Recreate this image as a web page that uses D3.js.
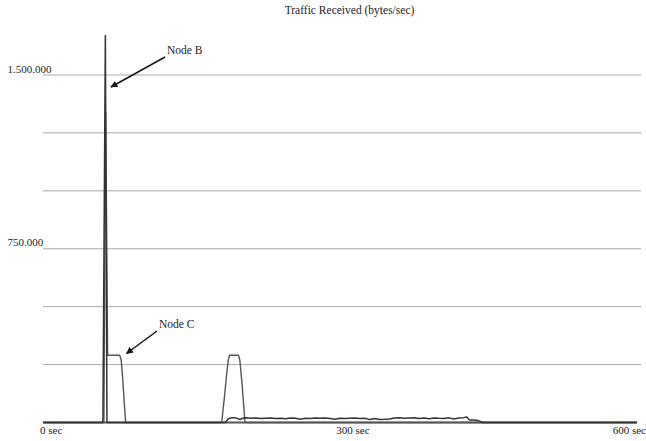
<!DOCTYPE html>
<html>
<head>
<meta charset="utf-8">
<script src="https://cdn.jsdelivr.net/npm/d3@7"></script>
<style>
  body { margin: 0; background: #fff; }
</style>
</head>
<body>
<svg id="traffic-chart"></svg>
<script>
// Traffic received per node, bytes/sec over 600 sec

var chartTitle = "Traffic Received (bytes/sec)";

var xTicks = [0, 300, 600];
var xTickLabels = ["0 sec", "300 sec", "600 sec"];
var gridValues = [0, 250000, 500000, 750000, 1000000, 1250000, 1500000];
var yLabelValues = [750000, 1500000];

// Node B: the big spike, then the low noisy traffic
var nodeBTimes = [0, 60.5, 63, 64.6, 184, 187, 190, 193, 196, 199, 202, 205, 210, 215, 220, 225, 230, 235,
	240, 245, 250, 255, 260, 265, 270, 275, 280, 285, 290, 295, 300, 305, 310, 315, 320, 325, 330, 335,
	340, 345, 350, 355, 360, 365, 370, 375, 380, 385, 390, 395, 400, 405, 410, 415, 420, 425, 428, 431,
	435, 439, 444.5, 600];
var nodeBValues = [0, 0, 1670000, 0, 0, 15000, 20000, 21000, 18000, 13000, 19000, 20000, 18000, 19000,
	17000, 18500, 19000, 17500, 18000, 16000, 19000, 18000, 14000, 18500, 17500, 19000, 18000, 19500, 17000,
	14000, 18000, 17500, 18500, 19000, 17000, 18000, 12500, 17000, 13000, 13500, 15000, 19000, 20000, 18500,
	19500, 20500, 17500, 19000, 16500, 19500, 18000, 17000, 20000, 15500, 19500, 21000, 24000, 11000, 10500,
	9000, 0, 0];

// Node C: short spike, then two plateaus around 290k
var nodeCTimes = [0, 61.5, 63.3, 65.3, 66.5, 77.5, 79, 80.5, 82, 83.5, 180.5, 183.5, 186, 187.2, 188.4,
	197.5, 198.8, 201, 204, 600];
var nodeCValues = [0, 0, 1340000, 290000, 290000, 290000, 270000, 190000, 90000, 0, 0, 120000, 230000,
	270000, 290000, 290000, 270000, 170000, 0, 0];

var fullWidth = 646, fullHeight = 441;
var margin = {top: 75, right: 9, bottom: 18.5, left: 43};
var serif = "'Liberation Serif', 'Times New Roman', 'DejaVu Serif', serif";

var xscale = d3.scaleLinear()
	.domain([0, 600])
	.range([margin.left, fullWidth - margin.right]);

var yscale = d3.scaleLinear()
	.domain([0, 1500000])
	.range([fullHeight - margin.bottom, margin.top]);

var dotLocale = d3.formatLocale({decimal: ",", thousands: ".", grouping: [3], currency: ["", ""]});
var yformat = dotLocale.format(",d");

var svg = d3.select("#traffic-chart")
	.attr("width", fullWidth)
	.attr("height", fullHeight)
	.attr("font-family", serif)
	.style("font-family", serif);

svg.append("defs").append("marker")
	.attr("id", "arrowhead")
	.attr("viewBox", "0 0 10 10")
	.attr("refX", 9)
	.attr("refY", 5)
	.attr("markerWidth", 9)
	.attr("markerHeight", 7)
	.attr("markerUnits", "userSpaceOnUse")
	.attr("orient", "auto")
	.append("path")
	.attr("d", "M0,0 L10,5 L0,10 z")
	.style("fill", "#111");

// title
svg.append("text")
	.attr("x", 349.5)
	.attr("y", 14)
	.style("text-anchor", "middle")
	.style("font-size", "11.5px")
	.style("fill", "#222")
	.text(chartTitle);

// horizontal grid
svg.append("g").selectAll("line")
	.data(gridValues)
	.enter().append("line")
	.attr("x1", xscale(0))
	.attr("x2", function(d) { return d === 0 ? xscale(600) : xscale(600) + 4; })
	.attr("y1", function(d) { return yscale(d); })
	.attr("y2", function(d) { return yscale(d); })
	.style("stroke", function(d) { return d === 0 ? "#555" : "#a8a8a8"; })
	.style("stroke-width", function(d) { return d === 0 ? 2 : 1; });

// y labels sit just above their grid line
svg.append("g").selectAll("text")
	.data(yLabelValues)
	.enter().append("text")
	.attr("x", 7.5)
	.attr("y", function(d) { return yscale(d) - 2.5; })
	.style("font-size", "11px")
	.style("fill", "#222")
	.text(function(d) { return yformat(d); });

// x labels
var xanchor = ["start", "middle", "end"];
var xshift = [-3, 13, 9];
svg.append("g").selectAll("text")
	.data(xTicks)
	.enter().append("text")
	.attr("x", function(d, i) { return xscale(d) + xshift[i]; })
	.attr("y", fullHeight - 7)
	.style("text-anchor", function(d, i) { return xanchor[i]; })
	.style("font-size", "11px")
	.style("fill", "#222")
	.text(function(d, i) { return xTickLabels[i]; });

var line = d3.line()
	.x(function(d) { return xscale(d[0]); })
	.y(function(d) { return yscale(d[1]); });

svg.append("path")
	.datum(d3.zip(nodeCTimes, nodeCValues))
	.attr("d", line)
	.style("fill", "none")
	.style("stroke", "#555")
	.style("stroke-width", 1.4)
	.style("stroke-linejoin", "round");

svg.append("path")
	.datum(d3.zip(nodeBTimes, nodeBValues))
	.attr("d", line)
	.style("fill", "none")
	.style("stroke", "#333")
	.style("stroke-width", 1.5)
	.style("stroke-linejoin", "round");

// annotations
var notes = [
	{label: "Node B", tx: 167, ty: 53.5, from: [165, 57], to: [111, 87]},
	{label: "Node C", tx: 159, ty: 328, from: [157, 331], to: [126.5, 353.5]}
];

var note = svg.append("g").selectAll("g")
	.data(notes)
	.enter().append("g");

note.append("text")
	.attr("x", function(d) { return d.tx; })
	.attr("y", function(d) { return d.ty; })
	.style("font-size", "11.5px")
	.style("fill", "#222")
	.text(function(d) { return d.label; });

note.append("line")
	.attr("x1", function(d) { return d.from[0]; })
	.attr("y1", function(d) { return d.from[1]; })
	.attr("x2", function(d) { return d.to[0]; })
	.attr("y2", function(d) { return d.to[1]; })
	.style("stroke", "#111")
	.style("stroke-width", 1.5)
	.attr("marker-end", "url(#arrowhead)");
</script>
</body>
</html>
